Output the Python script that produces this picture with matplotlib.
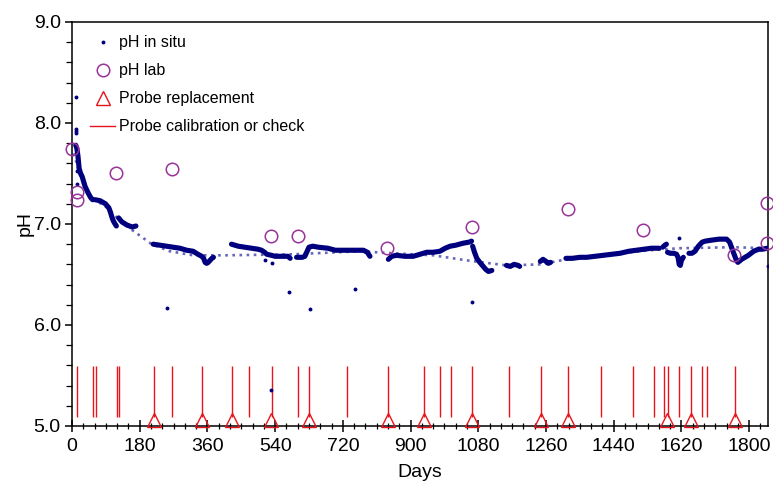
""" pH in situ vs lab, probe replacements and calibrations """
import numpy as np
import matplotlib.pyplot as plt
from matplotlib.lines import Line2D
from matplotlib.ticker import MultipleLocator, FormatStrFormatter

plt.switch_backend('Agg')
plt.rcParams['font.family'] = ['Liberation Sans', 'DejaVu Sans']

nan = np.nan

# in situ record, segments split by nan
insitu_days = [10, 13, 16, 19, 23, 27, 31, 35, 40, 44, 50, 55, nan,
               62, 75, 89, 98, 102, 106, 110, 113, 118, nan,
               124, 133, 146, 160, 170, nan,
               216, 234, 252, 270, 287, 305, 322, 335, 345, 350, 354, 358, 362, 367, 372, 376, nan,
               424, 442, 460, 478, 495, 504, 512, 518, 530, 540, 553, 566, 574, 580, nan,
               597, 605, 612, 619, 624, 630, 640, 655, 680, 700, 730, 760, 775, 785, 792, nan,
               841, 850, 863, 885, 907, 925, 943, 960, 978, 992, 1005, 1020, 1040, 1055, 1062, nan,
               1065, 1070, 1076, 1084, 1093, 1100, 1107, 1116, nan,
               1155, 1165, 1175, 1186, 1190, nan,
               1245, 1252, 1260, 1266, 1272, nan,
               1313, 1330, 1350, 1368, 1390, 1412, 1435, 1457, 1480, 1500, 1520, 1540, 1560, nan,
               1570, 1576, 1580, nan,
               1583, 1590, 1600, 1607, 1611, 1614, 1617, 1620, 1625, nan,
               1640, 1648, 1656, 1665, 1675, 1683, 1700, 1720, 1740, 1748, 1754, 1760, 1766, 1770,
               1780, 1798, 1812, 1825, 1835, 1848]
insitu_ph = [7.78, 7.75, 7.67, 7.55, 7.50, 7.47, 7.42, 7.37, 7.33, 7.30, 7.26, 7.24, nan,
             7.24, 7.23, 7.20, 7.16, 7.12, 7.07, 7.03, 7.01, 6.98, nan,
             7.06, 7.02, 6.99, 6.97, 6.98, nan,
             6.80, 6.79, 6.78, 6.77, 6.76, 6.74, 6.73, 6.70, 6.68, 6.66, 6.62, 6.61, 6.62, 6.64, 6.66, 6.67, nan,
             6.80, 6.78, 6.77, 6.76, 6.75, 6.74, 6.72, 6.70, 6.69, 6.68, 6.68, 6.68, 6.68, 6.66, nan,
             6.67, 6.67, 6.67, 6.68, 6.72, 6.77, 6.78, 6.77, 6.76, 6.74, 6.74, 6.74, 6.74, 6.72, 6.68, nan,
             6.65, 6.68, 6.69, 6.68, 6.68, 6.70, 6.72, 6.72, 6.73, 6.76, 6.78, 6.79, 6.81, 6.82, 6.83, nan,
             6.78, 6.72, 6.66, 6.62, 6.58, 6.55, 6.53, 6.54, nan,
             6.59, 6.58, 6.60, 6.59, 6.58, nan,
             6.63, 6.65, 6.63, 6.61, 6.62, nan,
             6.66, 6.66, 6.67, 6.67, 6.68, 6.69, 6.70, 6.71, 6.73, 6.74, 6.75, 6.76, 6.76, nan,
             6.77, 6.79, 6.80, nan,
             6.72, 6.71, 6.71, 6.70, 6.67, 6.60, 6.59, 6.64, 6.67, nan,
             6.71, 6.71, 6.73, 6.78, 6.82, 6.83, 6.84, 6.85, 6.85, 6.82, 6.76, 6.70, 6.64, 6.62,
             6.65, 6.69, 6.73, 6.75, 6.75, 6.76]

# isolated in situ readings
spike_days = [10, 10, 10, 10, 13, 13, 253, 513, 531, 530, 576, 634, 751, 1063, 1614, 1849]
spike_ph = [8.26, 7.94, 7.92, 7.90, 7.52, 7.40, 6.17, 6.64, 6.61, 5.36, 6.33, 6.16, 6.36, 6.23, 6.86, 6.58]

# smoothed trend of in situ
trend_days = [5, 20, 40, 60, 90, 120, 160, 212, 260, 322, 411, 588, 766, 853, 960, 1049,
              1155, 1244, 1315, 1403, 1536, 1616, 1757, 1847]
trend_ph = [7.70, 7.50, 7.32, 7.24, 7.17, 7.06, 6.94, 6.80, 6.73, 6.69, 6.69, 6.70, 6.73, 6.71,
            6.69, 6.64, 6.59, 6.60, 6.65, 6.69, 6.74, 6.76, 6.77, 6.76]

lab_days = [1, 14, 14, 117, 266, 529, 600, 838, 1062, 1318, 1519, 1761, 1847, 1847]
lab_ph = [7.74, 7.32, 7.24, 7.50, 7.54, 6.88, 6.88, 6.76, 6.97, 7.15, 6.94, 6.69, 7.21, 6.81]

replace_days = [219, 345, 426, 529, 631, 839, 936, 1062, 1247, 1318, 1582, 1645, 1762]

calib_days = [14, 55, 64, 119, 125, 219, 266, 345, 426, 470, 532, 602, 631, 730, 839,
              936, 978, 1007, 1062, 1162, 1247, 1318, 1405, 1491, 1546, 1574, 1584, 1614,
              1645, 1675, 1687, 1762]

navy = '#00007f'
purple = '#993399'
red = '#e8141c'

fig = plt.figure(figsize=(7.73, 4.82), dpi=100)
ax = fig.add_axes([0.0931, 0.1162, 0.9004, 0.8382])

ax.plot(trend_days, trend_ph, color='#6868b8', lw=1.9, ls=(0, (1, 1.7)), zorder=2)
ax.plot(insitu_days, insitu_ph, color=navy, lw=3.7, solid_capstyle='round',
        solid_joinstyle='round', zorder=3)
ax.plot(spike_days, spike_ph, ls='none', marker='o', ms=2.8, mew=0, color=navy, zorder=3)
ax.plot(lab_days, lab_ph, ls='none', marker='o', ms=9, mfc='none', mec=purple, mew=1.1,
        clip_on=False, zorder=4)
ax.vlines(calib_days, 5.09, 5.59, color=red, lw=1.0, zorder=2)
ax.plot(replace_days, [5.06] * len(replace_days), ls='none', marker='^', ms=10, mfc='none',
        mec=red, mew=1.0, clip_on=False, zorder=5)

ax.set_xlim(0, 1850)
ax.set_ylim(5.0, 9.0)
ax.xaxis.set_major_locator(MultipleLocator(180))
ax.xaxis.set_minor_locator(MultipleLocator(30))
ax.yaxis.set_major_locator(MultipleLocator(1.0))
ax.yaxis.set_minor_locator(MultipleLocator(0.2))
ax.yaxis.set_major_formatter(FormatStrFormatter('%.1f'))

ax.tick_params(axis='x', which='major', direction='inout', length=8, width=1.1, labelsize=14, pad=5)
ax.tick_params(axis='x', which='minor', direction='inout', length=4, width=0.9)
ax.tick_params(axis='y', which='major', direction='out', length=5, width=1.1, labelsize=14, pad=3)
ax.tick_params(axis='y', which='minor', direction='out', length=4, width=0.9)
for s in ax.spines.values():
    s.set_linewidth(1.1)

ax.set_xlabel('Days', fontsize=14, labelpad=6)
ax.set_ylabel('pH', fontsize=14, labelpad=0)

handles = [
    Line2D([], [], ls='none', marker='o', ms=2.8, mew=0, color=navy),
    Line2D([], [], ls='none', marker='o', ms=9, mfc='none', mec=purple, mew=1.1),
    Line2D([], [], ls='none', marker='^', ms=10, mfc='none', mec=red, mew=1.0),
    Line2D([], [], color=red, lw=1.0),
]
labels = ['pH in situ', 'pH lab', 'Probe replacement', 'Probe calibration or check']
ax.legend(handles, labels, loc='upper left', bbox_to_anchor=(0.005, 1.003), frameon=False,
          fontsize=11.5, handlelength=1.6, handletextpad=0.25, labelspacing=0.82)

fig.savefig('out.png', dpi=100)
